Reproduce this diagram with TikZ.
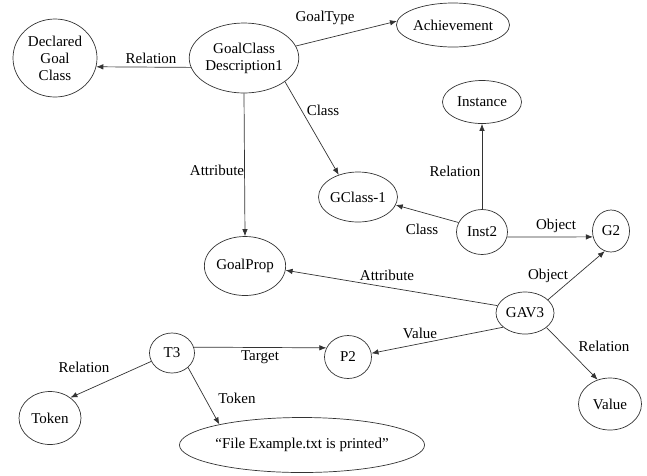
\documentclass[tikz,border=0pt]{standalone}
\usepackage{fontspec}
\setmainfont{Liberation Serif}
\usetikzlibrary{shapes.geometric,arrows.meta}
\begin{document}
\begin{tikzpicture}[x=1pt,y=-1pt,
  every node/.style={font=\fontsize{15}{17}\selectfont},
  ent/.style={ellipse,draw=black!80,line width=0.7pt,inner sep=0pt,align=center},
  lab/.style={inner sep=0pt},
  rel/.style={draw=black!80,line width=0.7pt,-{Latex[length=7pt,width=5.5pt]}}]
\useasboundingbox (0,0) rectangle (647,475);
% entities
\node[ent,minimum width=84pt,minimum height=78pt] (dgc) at (55,58) {Declared\\Goal\\Class};
\node[ent,minimum width=99pt,minimum height=70pt] (gcd) at (244,58) {GoalClass\\Description1};
\node[ent,minimum width=97pt,minimum height=44pt] (ach) at (453,25) {Achievement};
\node[ent,minimum width=79pt,minimum height=43pt] (inst) at (482,102) {Instance};
\node[ent,minimum width=78pt,minimum height=50pt] (gc1) at (358,197) {GClass-1};
\node[ent,minimum width=72pt,minimum height=59pt] (gp) at (245,266) {GoalProp};
\node[ent,minimum width=51pt,minimum height=45pt] (inst2) at (482,232) {Inst2};
\node[ent,minimum width=37pt,minimum height=42pt] (g2) at (611,231) {G2};
\node[ent,minimum width=58pt,minimum height=42pt] (gav) at (525,313) {GAV3};
\node[ent,minimum width=47pt,minimum height=43pt] (p2) at (348,357) {P2};
\node[ent,minimum width=63pt,minimum height=52pt] (val) at (610,404) {Value};
\node[ent,minimum width=45pt,minimum height=40pt] (t3) at (172,353) {T3};
\node[ent,minimum width=62pt,minimum height=53pt] (tok) at (50,418) {Token};
\node[ent,minimum width=215pt,minimum height=55pt] (file) at (302,445) {“File Example.txt is printed”};
% connectors
\draw[rel] (gcd.190) -- (dgc.-12);
\draw[rel] (gcd.13) -- (ach.176);
\draw[rel] (gcd.-30) -- (gc1.131);
\draw[rel] (gcd.south) -- (gp.north);
\draw[rel] (inst2.158) -- (gc1.-12);
\draw[rel] (inst2.north) -- (inst.south);
\draw[rel] (inst2.-11) -- (g2.198);
\draw[rel] (gav.30) -- (g2.253);
\draw[rel] (gav.165) -- (gp.-6);
\draw[rel] (gav.213) -- (p2.9);
\draw[rel] (gav.-34) -- (val.117);
\draw[rel] (t3.15) -- (p2.157);
\draw[rel] (t3.202) -- (tok.45);
\draw[rel] (t3.-42) -- (file.166);
% labels
\node[lab] (l1) at (151,58) {Relation};
\node[lab] (l2) at (325,18) {GoalType};
\node[lab] (l3) at (323,110) {Class};
\node[lab] (l4) at (217,170) {Attribute};
\node[lab] (l5) at (455,171) {Relation};
\node[lab] (l6) at (422,229) {Class};
\node[lab] (l7) at (556,226) {Object};
\node[lab] (l8) at (548,276) {Object};
\node[lab] (l9) at (387,275) {Attribute};
\node[lab] (l10) at (420,333) {Value};
\node[lab] (l11) at (604,346) {Relation};
\node[lab] (l12) at (260,357) {Target};
\node[lab] (l13) at (84,367) {Relation};
\node[lab] (l14) at (237,398) {Token};
\end{tikzpicture}
\end{document}
